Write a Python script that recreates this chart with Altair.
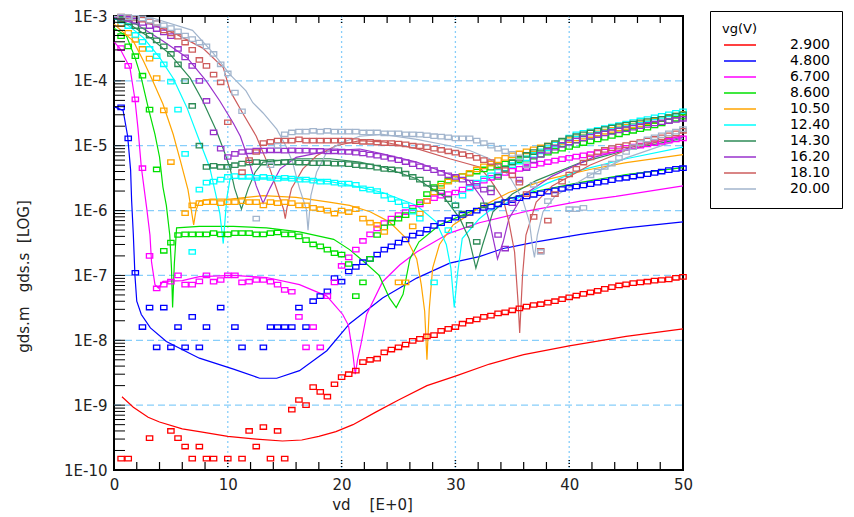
import altair as alt
import pandas as pd

# ---------------- series labels / colours ----------------
VG_LABELS = ["2.900", "4.800", "6.700", "8.600", "10.50",
             "12.40", "14.30", "16.20", "18.10", "20.00"]
COLORS = ["#ff0000", "#0000ff", "#ff00ff", "#00e000", "#ffa500",
          "#00ffff", "#2e8b57", "#9932cc", "#cd5c5c", "#a2b5cd"]

# ---------------- model curves (gds.s) ----------------
m29_vd = [0.7, 1.7, 3, 4, 6, 7.5, 10, 12.5, 14.8, 16.5, 18, 19.5, 21, 23, 25, 27.5, 30, 33, 36, 40, 45, 50]
m29_g = [1.35e-9, 9.3e-10, 6.5e-10, 5.5e-10, 4.3e-10, 3.9e-10, 3.3e-10, 3.0e-10, 2.8e-10, 2.9e-10, 3.3e-10,
         3.9e-10, 5e-10, 7.8e-10, 1.2e-9, 2e-9, 2.8e-9, 4.3e-9, 6e-9, 8.2e-9, 1.15e-8, 1.5e-8]

m48_vd = [0, 0.8, 1.2, 1.46, 1.55, 1.7, 1.84, 2.0, 2.4, 3.2, 4.6, 7.5, 10.5, 12.8, 14.3, 16.3, 18.7, 20.7,
          23.6, 26.6, 29.5, 32.1, 34.2, 37.1, 41, 45, 50]
m48_g = [4e-5, 3.5e-5, 1.4e-5, 4.2e-6, 1.4e-6, 4.2e-7, 1e-7, 4e-8, 2.5e-8, 1.55e-8, 9.6e-9, 5.3e-9, 3.6e-9,
         2.6e-9, 2.6e-9, 3.4e-9, 6.9e-9, 1.8e-8, 4.5e-8, 9.1e-8, 1.55e-7, 1.95e-7, 2.6e-7, 3.3e-7, 4.3e-7,
         5.4e-7, 6.7e-7]

m67_vd = [0, 0.5, 1.4, 1.84, 2.1, 2.4, 2.9, 3.16, 3.3, 3.6, 3.9, 4.3, 6, 7.5, 10.5, 13.4, 16.3, 18.7, 20.1,
          20.6, 21.0, 21.2, 21.4, 21.7, 22.2, 23.6, 25.1, 26.6, 29.5, 32.1, 36.5, 41, 44.1, 50]
m67_g = [4e-4, 3.2e-4, 1.6e-4, 5.2e-5, 1.9e-5, 4.7e-6, 1e-6, 4.2e-7, 1.6e-7, 7.2e-8, 6.4e-8, 8.1e-8, 8.3e-8,
         9.6e-8, 1e-7, 9.3e-8, 7.2e-8, 4.8e-8, 2.5e-8, 1.7e-8, 6e-9, 3e-9, 5e-9, 8.7e-9, 2.5e-8, 8e-8,
         1.45e-7, 2.3e-7, 4.5e-7, 6.5e-7, 1e-6, 1.4e-6, 1.65e-6, 2.4e-6]

m86_vd = [0, 1.1, 1.84, 2.4, 3.0, 3.6, 4.0, 4.3, 4.6, 4.9, 5.05, 5.15, 5.3, 5.5, 7.5, 10.5, 13.4, 16.3, 19.3,
          20.7, 22.2, 23.3, 24.2, 24.8, 25.4, 26, 26.8, 28.6, 32.1, 36.5, 40.9, 45, 50]
m86_g = [6.5e-4, 4.9e-4, 2.3e-4, 1.1e-4, 3.9e-5, 1.5e-5, 6.7e-6, 2.3e-6, 1.2e-6, 4.2e-7, 1.3e-7, 3.2e-8,
         1.5e-7, 5.4e-7, 5.7e-7, 5.7e-7, 5.4e-7, 4.7e-7, 3.6e-7, 2.5e-7, 1.5e-7, 1e-7, 4.5e-8, 3.2e-8,
         5.1e-8, 1.8e-7, 3.3e-7, 6e-7, 1.1e-6, 1.9e-6, 2.7e-6, 3.6e-6, 4.6e-6]

m105_vd = [0, 1.7, 2.6, 3.4, 4.3, 5.2, 5.9, 6.5, 6.8, 7.0, 7.2, 7.5, 8.5, 10.2, 13.1, 16, 18.9, 20.7, 22.5,
           24.2, 25.7, 26.6, 27.0, 27.3, 27.5, 27.7, 28.0, 28.6, 29.8, 32.1, 34.7, 38, 41.8, 45, 50]
m105_g = [7.5e-4, 4.1e-4, 2e-4, 1e-4, 4.4e-5, 1.5e-5, 5.3e-6, 2.1e-6, 1e-6, 6e-7, 1e-6, 1.4e-6, 1.5e-6,
          1.5e-6, 1.7e-6, 1.6e-6, 1.35e-6, 1.2e-6, 9.6e-7, 6.7e-7, 3.7e-7, 1.8e-7, 7.2e-8, 2.8e-8, 5e-9,
          3e-8, 1.3e-7, 3e-7, 6e-7, 1.1e-6, 1.9e-6, 3e-6, 4.3e-6, 5.5e-6, 7.3e-6]

m124_vd = [0, 0.8, 2.6, 4, 5.2, 6.4, 7.5, 8.4, 9, 9.3, 9.6, 9.9, 10.2, 13.1, 16, 19, 21.6, 23.6, 26.6, 28.3,
           29.2, 29.6, 29.9, 30.2, 30.6, 32.1, 33, 35.6, 38, 41, 45, 50]
m124_g = [9e-4, 8.3e-4, 4.6e-4, 2.3e-4, 1.1e-4, 3.9e-5, 1.2e-5, 4.7e-6, 1.6e-6, 9e-7, 3.1e-7, 1.5e-6, 3.1e-6,
          3.2e-6, 3.1e-6, 2.8e-6, 2.3e-6, 1.9e-6, 1.2e-6, 6.7e-7, 3e-7, 1.3e-7, 3.2e-8, 1.1e-7, 3.7e-7,
          7.5e-7, 1e-6, 1.6e-6, 2.6e-6, 4.2e-6, 6.3e-6, 9.5e-6]

m143_vd = [0, 1.4, 3.2, 4.9, 6.7, 7.8, 9, 9.7, 10.2, 10.6, 11.2, 11.8, 12.4, 13.1, 16, 19, 21.6, 23.6, 26.6,
           28.9, 30.4, 31.2, 31.8, 32.4, 33.3, 35, 37.1, 41, 45, 50]
m143_g = [9.5e-4, 7.4e-4, 4.6e-4, 2.6e-4, 1.1e-4, 4.9e-5, 1.7e-5, 8e-6, 4.5e-6, 2.2e-6, 1.05e-6, 2.2e-6,
          3.9e-6, 5.6e-6, 6.3e-6, 6.3e-6, 5.6e-6, 4.7e-6, 3.1e-6, 1.7e-6, 7.5e-7, 3.7e-7, 1.3e-7, 3e-7,
          9.6e-7, 1.8e-6, 2.9e-6, 5.5e-6, 8.5e-6, 1.3e-5]

m162_vd = [0, 2, 4.3, 6.4, 8.1, 9.3, 10.5, 11.1, 11.8, 12.5, 13.1, 13.7, 14.6, 16, 19, 21.6, 23.6, 26.6, 29.5,
           31.2, 32.4, 33, 33.7, 34.2, 34.7, 35.9, 38.5, 42, 46, 50]
m162_g = [9.8e-4, 7.4e-4, 4.1e-4, 2.3e-4, 1e-4, 4.9e-5, 2.2e-5, 1.4e-5, 6.3e-6, 2.4e-6, 1.3e-6, 2.2e-6,
          4.4e-6, 6.6e-6, 8.4e-6, 8.9e-6, 7.5e-6, 5.6e-6, 3.6e-6, 2.9e-6, 1.5e-6, 6.7e-7, 1.8e-7, 3.3e-7,
          7.5e-7, 1.7e-6, 3.4e-6, 6.5e-6, 1e-5, 1.35e-5]

m181_vd = [0, 2.6, 5.5, 7.8, 9.6, 10.2, 11.3, 12.5, 13.7, 14.4, 14.9, 15.05, 15.2, 15.6, 16.6, 17.8, 19.5,
           21.6, 23.6, 26.6, 29.5, 32.1, 33, 34.2, 34.7, 35.2, 35.5, 35.65, 35.9, 36.2, 37.1, 38.5, 41.8, 45, 50]
m181_g = [9.9e-4, 8.3e-4, 5.2e-4, 3.2e-4, 1.6e-4, 7e-5, 3.2e-5, 1.4e-5, 4.4e-6, 1.9e-6, 1.05e-6, 7.5e-7,
          1.1e-6, 2.2e-6, 4.4e-6, 7e-6, 1e-5, 1.2e-5, 1.15e-5, 9e-6, 6.3e-6, 4.7e-6, 3.1e-6, 1.5e-6, 6.7e-7,
          2.3e-7, 4e-8, 1.3e-8, 1e-7, 4.2e-7, 1.35e-6, 2.4e-6, 5e-6, 8.5e-6, 1.45e-5]

m200_vd = [0, 3.4, 6.9, 8.7, 10.2, 11.6, 12.2, 13.1, 14.3, 15.1, 15.7, 16.3, 16.9, 17.05, 17.3, 17.8, 18.7,
           19.9, 21.6, 23.6, 26.6, 29.5, 31.2, 33, 34.7, 35.9, 36.5, 36.8, 36.95, 37.2, 37.7, 38.8, 41.8, 45, 50]
m200_g = [9.9e-4, 9.3e-4, 6e-4, 2.7e-4, 1.25e-4, 7e-5, 4.6e-5, 3.2e-5, 1.8e-5, 1e-5, 5.5e-6, 2.2e-6, 1.05e-6,
          5e-7, 1.7e-6, 3.9e-6, 8e-6, 1.1e-5, 1.4e-5, 1.5e-5, 1.25e-5, 1e-5, 8.5e-6, 6.3e-6, 3.5e-6, 1.5e-6,
          6.7e-7, 2.6e-7, 1.9e-7, 4.2e-7, 9.6e-7, 1.7e-6, 3.5e-6, 6.5e-6, 1.3e-5]

# ---------------- measured points (gds.m), vd sweep step 0.625 V, 81 points ----------------
VD_STEP = 0.625
N_MEAS = 81

g29 = [None, 1.5e-10, 1.5e-10, None, None, 3.1e-10, None, None, 4e-10, 3.1e-10,
       2.3e-10, 1.5e-10, 2.3e-10, 1.5e-10, 1.5e-10, None, 1.5e-10, None, 1.5e-10, 4e-10,
       2.3e-10, 4.6e-10, 1.5e-10, 4e-10, 1.5e-10, 8.5e-10, 1.2e-9, 1e-9, 1.9e-9, 1.6e-9,
       1.35e-9, 2.1e-9, 2.7e-9, 3e-9, 3.4e-9, 4.6e-9, 5e-9, 5.2e-9, 6.5e-9, 7.2e-9,
       7.8e-9, 8.6e-9, 9.8e-9, 1.05e-8, 1.15e-8, 1.2e-8, 1.4e-8, 1.5e-8, 1.6e-8, 1.8e-8,
       2e-8, 2.1e-8, 2.3e-8, 2.4e-8, 2.6e-8, 2.7e-8, 2.9e-8, 3.1e-8, 3.3e-8, 3.5e-8,
       3.6e-8, 3.8e-8, 4e-8, 4.3e-8, 4.6e-8, 4.9e-8, 5.2e-8, 5.5e-8, 5.8e-8, 6.2e-8,
       6.6e-8, 7e-8, 7.3e-8, 7.6e-8, 7.8e-8, 8e-8, 8.3e-8, 8.5e-8, 8.7e-8, 9.2e-8,
       9.5e-8]

g48 = [None, 3.9e-5, 1.3e-5, 1.1e-7, 1.6e-8, 3.2e-8, 7.8e-9, 3.2e-8, 7.8e-9, 1.6e-8,
       7.8e-9, 2.3e-8, 7.8e-9, 1.6e-8, None, 3.2e-8, None, 1.6e-8, 7.8e-9, None,
       None, 7.8e-9, 1.6e-8, 1.6e-8, 1.6e-8, 1.6e-8, 3.2e-8, 1.6e-8, 4e-8, 4.8e-8,
       5.7e-8, 9.1e-8, 8e-8, 1.15e-7, 1.35e-7, 1.6e-7, 1.8e-7, 2.1e-7, 2.5e-7, 2.8e-7,
       3.2e-7, 3.6e-7, 4.1e-7, 4.5e-7, 5.1e-7, 5.8e-7, 6.4e-7, 7.1e-7, 7.8e-7, 8.6e-7,
       9.2e-7, 1e-6, 1.1e-6, 1.15e-6, 1.25e-6, 1.35e-6, 1.45e-6, 1.55e-6, 1.65e-6, 1.75e-6,
       1.85e-6, 1.95e-6, 2.05e-6, 2.15e-6, 2.25e-6, 2.35e-6, 2.45e-6, 2.55e-6, 2.7e-6, 2.8e-6,
       2.95e-6, 3.1e-6, 3.2e-6, 3.35e-6, 3.5e-6, 3.65e-6, 3.8e-6, 4e-6, 4.2e-6, 4.4e-6,
       4.5e-6]

g67 = [None, 3.2e-4, 1.7e-4, 5.2e-5, 4.5e-6, 2e-7, 6.3e-8, 7.2e-8, 8e-8, 1e-7,
       7.2e-8, 7.2e-8, 8.1e-8, 1e-7, 8e-8, 8.5e-8, 1e-7, 1e-7, 7.8e-8, 8e-8,
       8.5e-8, 8.5e-8, 8e-8, 7.2e-8, 6e-8, 5.6e-8, 2.3e-8, 7.8e-9, 1.6e-8, 7.8e-9,
       4.8e-8, 7.8e-8, 1.4e-7, 1.9e-7, 2.5e-7, 3.4e-7, 4.3e-7, 5.3e-7, 6.4e-7, 7.5e-7,
       8.5e-7, 9.5e-7, 1.1e-6, 1.25e-6, 1.4e-6, 1.55e-6, 1.7e-6, 1.8e-6, 1.9e-6, 2.1e-6,
       2.3e-6, 2.6e-6, 2.9e-6, 3.2e-6, 3.5e-6, 3.8e-6, 4.1e-6, 4.4e-6, 4.7e-6, 5e-6,
       5.3e-6, 5.6e-6, 5.9e-6, 6.2e-6, 6.5e-6, 6.8e-6, 7.1e-6, 7.4e-6, 7.8e-6, 8.1e-6,
       8.5e-6, 8.9e-6, 9.3e-6, 9.7e-6, 1e-5, 1.05e-5, 1.1e-5, 1.15e-5, 1.2e-5, 1.25e-5,
       1.3e-5]

g86 = [None, 4.9e-4, 3.4e-4, 2.4e-4, 1.2e-4, 3.6e-5, 4.3e-6, 2.4e-7, 3.2e-7, 4.2e-7,
       4.3e-7, 4.3e-7, 4.3e-7, 4.3e-7, 4.5e-7, 4.3e-7, 4.3e-7, 4.5e-7, 4.5e-7, 4.5e-7,
       4.3e-7, 4.3e-7, 4.5e-7, 4.6e-7, 4.3e-7, 4.3e-7, 4e-7, 3.5e-7, 3e-7, 2.8e-7,
       2.5e-7, 2.2e-7, 2.1e-7, 1.5e-7, 4.8e-8, 7.8e-8, 1.8e-7, 4.2e-7, 5.5e-7, 6.5e-7,
       7.5e-7, 8.5e-7, 1e-6, 1.35e-6, 1.8e-6, 2.3e-6, 2.6e-6, 2.9e-6, 3.1e-6, 3.4e-6,
       3.7e-6, 4e-6, 4.3e-6, 4.6e-6, 5e-6, 5.3e-6, 5.6e-6, 6e-6, 6.3e-6, 6.8e-6,
       7.3e-6, 7.8e-6, 8.4e-6, 9e-6, 9.6e-6, 1.03e-5, 1.1e-5, 1.17e-5, 1.25e-5, 1.33e-5,
       1.42e-5, 1.5e-5, 1.6e-5, 1.7e-5, 1.8e-5, 1.9e-5, 2.05e-5, 2.2e-5, 2.4e-5, 2.6e-5,
       2.8e-5]

g105 = [None, 7.5e-4, 5.5e-4, 4.3e-4, 3.1e-4, 2.2e-4, 1.1e-4, 3.5e-5, 5.6e-6, None,
        9.1e-7, 1.2e-6, 1.3e-6, 1.35e-6, 1.35e-6, 1.3e-6, 1.35e-6, 1.35e-6, 1.4e-6, 1.35e-6,
        1.35e-6, 1.2e-6, 1.35e-6, 1.3e-6, 1.35e-6, 1.3e-6, 1.2e-6, 1.2e-6, 1.1e-6, 1.05e-6,
        1e-6, 9e-7, 1e-6, 9.5e-7, 1.05e-6, 7.5e-7, 6.5e-7, 6e-7, 4.7e-7, None,
        7.8e-8, 7.8e-8, 5.7e-7, 9e-7, 1.4e-6, 1.9e-6, 2.4e-6, 2.8e-6, 3.1e-6, 3.4e-6,
        3.8e-6, 4.3e-6, 4.8e-6, 5.3e-6, 6e-6, 6.5e-6, 7.1e-6, 7.6e-6, 8.2e-6, 8.8e-6,
        9.4e-6, 1e-5, 1.08e-5, 1.15e-5, 1.22e-5, 1.3e-5, 1.38e-5, 1.46e-5, 1.55e-5, 1.65e-5,
        1.75e-5, 1.85e-5, 1.95e-5, 2.05e-5, 2.15e-5, 2.3e-5, 2.45e-5, 2.6e-5, 2.75e-5, 2.9e-5,
        3.1e-5]

g124 = [None, 8.5e-4, 7e-4, 5.1e-4, 4e-4, 3.1e-4, 2.4e-4, 1.8e-4, 9.7e-5, 3.6e-5,
        7.5e-6, 2.3e-7, 2.1e-6, 2.7e-6, 2.8e-6, 3e-6, 3.3e-6, 3.4e-6, 3.3e-6, 3.3e-6,
        3.2e-6, 3.3e-6, 3.2e-6, 3.1e-6, 3.2e-6, 3.1e-6, 3e-6, 3e-6, 2.9e-6, 2.8e-6,
        2.8e-6, 2.7e-6, 2.6e-6, 2.6e-6, 2.5e-6, 2.2e-6, 2.1e-6, 2e-6, 1.7e-6, 1.5e-6,
        1.35e-6, 1.2e-6, 9.6e-7, 7.5e-7, None, 7.8e-8, None, 5e-7, 1.2e-6, 1.7e-6,
        2.2e-6, 2.7e-6, 3.1e-6, 3.5e-6, 3.95e-6, 4.45e-6, 5e-6, 5.7e-6, 6.4e-6, 7.2e-6,
        8.2e-6, 9.2e-6, 1.04e-5, 1.18e-5, 1.33e-5, 1.5e-5, 1.58e-5, 1.67e-5, 1.76e-5, 1.86e-5,
        1.97e-5, 2.08e-5, 2.19e-5, 2.32e-5, 2.45e-5, 2.58e-5, 2.73e-5, 2.88e-5, 3.04e-5, 3.21e-5,
        3.4e-5]

g143 = [None, 9e-4, 8e-4, 7e-4, 6e-4, 5e-4, 4.2e-4, 3.4e-4, 2.6e-4, 1.8e-4,
        9.9e-5, 4.1e-5, 1e-5, 4.7e-6, 4.9e-6, 4.7e-6, 4.7e-6, 5e-6, 5.3e-6, 5.5e-6,
        5.6e-6, 5.5e-6, 5.6e-6, 5.5e-6, 5.6e-6, 5.6e-6, 5.5e-6, 5.5e-6, 5.4e-6, 5.4e-6,
        5.4e-6, 5.3e-6, 5.3e-6, 5.2e-6, 5e-6, 4.9e-6, 4.8e-6, 4.6e-6, 4.4e-6, 4.3e-6,
        4.2e-6, 3.7e-6, 3.3e-6, 3e-6, 2.6e-6, 2.2e-6, 1.9e-6, 1.5e-6, 1.2e-6, 9e-7,
        6e-7, 3.3e-7, 1.2e-6, 2.2e-6, 3.3e-6, 4.4e-6, 5.5e-6, 6.3e-6, 7.2e-6, 8e-6,
        9e-6, 1e-5, 1.1e-5, 1.2e-5, 1.3e-5, 1.4e-5, 1.5e-5, 1.6e-5, 1.7e-5, 1.8e-5,
        1.9e-5, 2e-5, 2.1e-5, 2.2e-5, 2.3e-5, 2.4e-5, 2.5e-5, 2.6e-5, 2.75e-5, 2.9e-5,
        3.05e-5]

g162 = [None, 9.5e-4, 9e-4, 8.5e-4, 7.8e-4, 7e-4, 6.3e-4, 5.6e-4, 4.9e-4, 3.1e-4,
        2.3e-4, 1.7e-4, 1e-4, 4.9e-5, 1.6e-5, 9e-6, 6.7e-6, 7.5e-6, 8e-6, 8.2e-6,
        8.4e-6, 8.4e-6, 8.5e-6, 8.5e-6, 8.4e-6, 8.5e-6, 8.4e-6, 8.4e-6, 8.3e-6, 8.3e-6,
        8.2e-6, 8.2e-6, 8.1e-6, 8e-6, 7.8e-6, 7.6e-6, 7.3e-6, 7e-6, 6.7e-6, 6.3e-6,
        6e-6, 5.6e-6, 5.2e-6, 4.8e-6, 4.5e-6, 4.2e-6, 3.8e-6, 3.5e-6, 3.3e-6, 3e-6,
        2.7e-6, 2.4e-6, 2.1e-6, 1.9e-6, 4.2e-7, 2.6e-7, 1.3e-6, 3e-6, 4.5e-6, 6e-6,
        7.2e-6, 8.3e-6, 9.3e-6, 1.03e-5, 1.12e-5, 1.2e-5, 1.3e-5, 1.38e-5, 1.46e-5, 1.55e-5,
        1.63e-5, 1.72e-5, 1.8e-5, 1.9e-5, 2e-5, 2.1e-5, 2.2e-5, 2.3e-5, 2.4e-5, 2.5e-5,
        2.6e-5]

g181 = [None, 9.8e-4, 9.5e-4, 9.2e-4, 8.8e-4, 8.3e-4, 7.8e-4, 6e-4, 5.4e-4, 4.8e-4,
        3.9e-4, 3e-4, 2.1e-4, 1.7e-4, 1.25e-4, 9.5e-5, 2.3e-5, None, 3.9e-6, 6e-6,
        8e-6, 1.1e-5, 1.15e-5, 1.2e-5, 1.2e-5, 1.2e-5, 1.25e-5, 1.2e-5, 1.2e-5, 1.2e-5,
        1.2e-5, 1.2e-5, 1.2e-5, 1.2e-5, 1.18e-5, 1.15e-5, 1.15e-5, 1.12e-5, 1.1e-5, 1.1e-5,
        1.08e-5, 1.05e-5, 1e-5, 9.8e-6, 9.5e-6, 9e-6, 8.6e-6, 8.2e-6, 7.8e-6, 7.4e-6,
        7e-6, 6.5e-6, 6e-6, 5.6e-6, 4.8e-6, 4.2e-6, 3.5e-6, 2.7e-6, 1.8e-6, 8e-7,
        2.4e-7, 7e-7, 1.8e-6, 2.8e-6, 3.6e-6, 4.4e-6, 5.5e-6, 6.6e-6, 8e-6, 8.6e-6,
        9.2e-6, 9.7e-6, 1.02e-5, 1.08e-5, 1.14e-5, 1.2e-5, 1.27e-5, 1.35e-5, 1.45e-5, 1.55e-5,
        1.7e-5]

g200 = [None, 9.8e-4, 9.6e-4, 9.4e-4, 9.2e-4, 8.5e-4, 7.8e-4, 7.2e-4, 6.5e-4, 5.8e-4,
        5e-4, 4.4e-4, 3.9e-4, 3.4e-4, 2.6e-4, 1.8e-4, 1.3e-4, 6.6e-5, 3.4e-5, None,
        7.5e-7, None, 5e-6, 1e-5, 1.5e-5, 1.6e-5, 1.65e-5, 1.65e-5, 1.7e-5, 1.65e-5,
        1.7e-5, 1.65e-5, 1.65e-5, 1.65e-5, 1.65e-5, 1.6e-5, 1.6e-5, 1.6e-5, 1.55e-5, 1.55e-5,
        1.55e-5, 1.5e-5, 1.5e-5, 1.48e-5, 1.45e-5, 1.4e-5, 1.38e-5, 1.35e-5, 1.3e-5, 1.3e-5,
        1.3e-5, 1.2e-5, 1.1e-5, 1e-5, 9e-6, 8.2e-6, 7.5e-6, 6.6e-6, 5e-6, 2.5e-6,
        2.3e-7, 1.4e-6, None, None, 1.05e-6, 1.05e-6, 1.1e-6, 3.5e-6, 4e-6, 4.7e-6,
        5.3e-6, 6.5e-6, 8e-6, 9.5e-6, 1.1e-5, 1.25e-5, 1.35e-5, 1.45e-5, 1.55e-5, 1.65e-5,
        1.8e-5]

# ---------------- axis decorations ----------------
X_LABEL_VALUES = [0, 10, 20, 30, 40, 50]
Y_LABEL_VALUES = [1e-10, 1e-9, 1e-8, 1e-7, 1e-6, 1e-5, 1e-4, 1e-3]
GRID_VD = [10, 20, 30, 40]
GRID_G = [1e-9, 1e-8, 1e-7, 1e-6, 1e-5, 1e-4]
X_MINOR_TICKS = [v for v in range(2, 50, 2) if v % 10 != 0]
Y_TICKS = [m * 10.0 ** d for d in range(-10, -3) for m in range(1, 10)][1:]

W, H = 569, 454

series = [
    ("2.900", m29_vd, m29_g, g29), ("4.800", m48_vd, m48_g, g48),
    ("6.700", m67_vd, m67_g, g67), ("8.600", m86_vd, m86_g, g86),
    ("10.50", m105_vd, m105_g, g105), ("12.40", m124_vd, m124_g, g124),
    ("14.30", m143_vd, m143_g, g143), ("16.20", m162_vd, m162_g, g162),
    ("18.10", m181_vd, m181_g, g181), ("20.00", m200_vd, m200_g, g200),
]

line_rows, meas_rows = [], []
for lab, vds, gs, meas in series:
    for k, (a, b) in enumerate(zip(vds, gs)):
        line_rows.append({"vg": lab, "vd": a, "g": b, "k": k})
    for i, b in enumerate(meas[:N_MEAS]):
        if b is not None:
            meas_rows.append({"vg": lab, "vd": i * VD_STEP, "g": b})

df_line = pd.DataFrame(line_rows)
df_meas = pd.DataFrame(meas_rows)

FONT = "DejaVu Sans"
NB = "\u00a0"

x_scale = alt.Scale(domain=[0, 50], nice=False, zero=False)
y_scale = alt.Scale(type="log", domain=[1e-10, 1e-3], nice=False)

x_axis = alt.Axis(values=X_LABEL_VALUES, ticks=False, domain=False, grid=False,
                  labelFont=FONT, labelFontSize=15, labelColor="#222", labelPadding=7,
                  labelFlush=False, title="vd" + NB * 4 + "[E+0]", titleFont=FONT, titleFontSize=15,
                  titleFontWeight="normal", titleColor="#222", titleX=258, titleY=27,
                  titleBaseline="top")
y_axis = alt.Axis(values=Y_LABEL_VALUES, labelExpr="'1E' + round(log(datum.value)/LN10)",
                  ticks=False, domain=False, grid=False, labelFont=FONT, labelFontSize=15,
                  labelColor="#222", labelPadding=7, labelFlush=False,
                  title="gds.m" + NB * 3 + "gds.s" + NB * 2 + "[LOG]", titleFont=FONT, titleFontSize=15,
                  titleFontWeight="normal", titleColor="#222", titleAngle=270,
                  titleX=-83, titleY=260, titleBaseline="bottom", titleAlign="center")

X = alt.X("vd:Q", scale=x_scale, axis=x_axis)
Y = alt.Y("g:Q", scale=y_scale, axis=y_axis)

color_scale = alt.Scale(domain=VG_LABELS, range=COLORS)

# grid lines
vgrid = alt.Chart(pd.DataFrame({"vd": GRID_VD})).mark_rule(
    color="#87cefa", strokeDash=[2, 3], strokeWidth=1.3).encode(
    x=X, y=alt.value(0), y2=alt.value(H))
hgrid = alt.Chart(pd.DataFrame({"g": GRID_G})).mark_rule(
    color="#87cefa", strokeDash=[7, 4], strokeWidth=1.3).encode(
    y=Y, x=alt.value(0), x2=alt.value(W))

LEG_SYMBOL = "M-3,0L3,0"
lines = alt.Chart(df_line).mark_line(strokeWidth=1.2).encode(
    x=X, y=Y,
    color=alt.Color("vg:N", scale=color_scale, legend=alt.Legend(
        title="vg(V)", orient="none", legendX=596, legendY=-5,
        symbolType=LEG_SYMBOL, symbolSize=114, symbolStrokeWidth=1.5, symbolOffset=11,
        strokeColor="#000", fillColor="#fff", padding=12,
        labelFont=FONT, labelFontSize=14, labelColor="#000", labelAlign="right",
        labelOffset=83, titleFont=FONT, titleFontSize=13, titleFontWeight="normal",
        titleColor="#000", rowPadding=2, titlePadding=2)),
    order="k:Q")

RECT = "M-1,-0.7L1,-0.7L1,0.7L-1,0.7Z"
squares = alt.Chart(df_meas).mark_point(shape=RECT, size=40, filled=False,
                                         strokeWidth=1.3, opacity=1).encode(
    x=X, y=Y,
    color=alt.Color("vg:N", scale=color_scale, legend=None))

bt = alt.Chart(pd.DataFrame({"vd": X_MINOR_TICKS})).mark_rule(color="#000", strokeWidth=1.2).encode(
    x=X, y=alt.value(H), y2=alt.value(H - 8))
tt = alt.Chart(pd.DataFrame({"vd": X_MINOR_TICKS})).mark_rule(color="#000", strokeWidth=1.2).encode(
    x=X, y=alt.value(0), y2=alt.value(7))
bmaj = alt.Chart(pd.DataFrame({"vd": GRID_VD})).mark_rule(color="#000", strokeWidth=1.5, strokeDash=[1, 2]).encode(
    x=X, y=alt.value(H), y2=alt.value(H - 10))
tmaj = alt.Chart(pd.DataFrame({"vd": GRID_VD})).mark_rule(color="#000", strokeWidth=1.5, strokeDash=[1, 2]).encode(
    x=X, y=alt.value(0), y2=alt.value(8))
lt = alt.Chart(pd.DataFrame({"g": Y_TICKS})).mark_rule(color="#000", strokeWidth=1).encode(
    y=Y, x=alt.value(0), x2=alt.value(11))

chart = alt.layer(vgrid, hgrid, lines, squares, bt, tt, bmaj, tmaj, lt).resolve_scale(
    color="independent"
).properties(
    width=W, height=H,
    autosize=alt.AutoSizeParams(type="none"),
    padding={"left": 106, "top": 8, "right": 163, "bottom": 45},
).configure_view(stroke="#000", strokeWidth=2)

chart.save("out.html", embed_options={"renderer": "svg", "actions": False})
